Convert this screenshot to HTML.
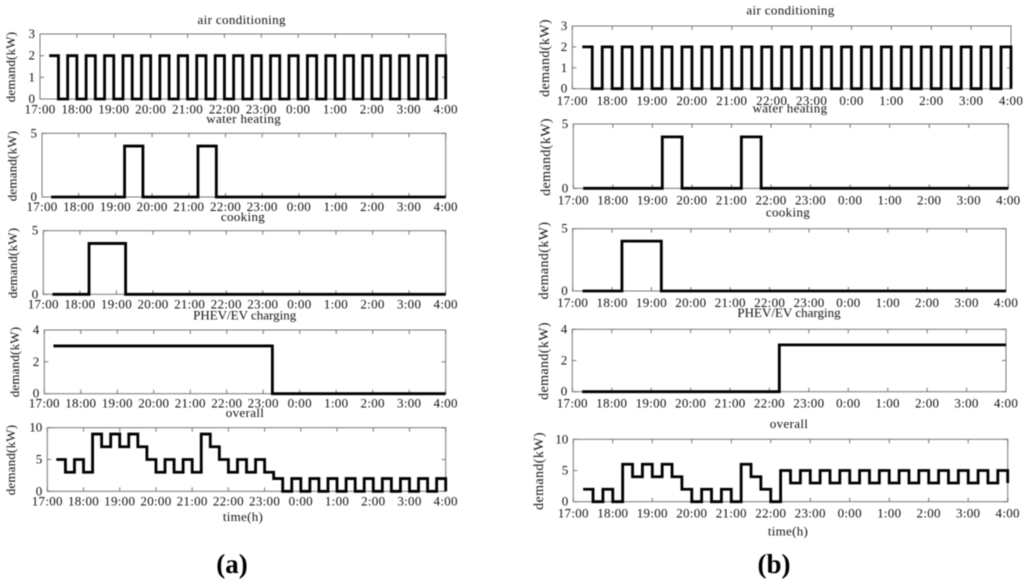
<!DOCTYPE html>
<html>
<head>
<meta charset="utf-8">
<title>Household demand schedules</title>
<style>
html,body{margin:0;padding:0;background:#fff;width:1024px;height:582px;overflow:hidden}
svg{display:block;filter:blur(0.5px)}
text{font-family:"Liberation Serif",serif;fill:#111;font-size:13px}
</style>
</head>
<body>
<svg id="chart" width="1024" height="582" viewBox="0 0 1024 582" xmlns="http://www.w3.org/2000/svg">
  <rect width="1024" height="582" fill="#fff"/>
  <text x="232" y="573" text-anchor="middle" style="font-size:27px;font-weight:bold;fill:#000">(a)</text>
  <text x="774" y="573" text-anchor="middle" style="font-size:27px;font-weight:bold;fill:#000">(b)</text>
  <text x="243" y="521" text-anchor="middle" style="letter-spacing:.3px">time(h)</text>
  <text x="788" y="535.5" text-anchor="middle" style="letter-spacing:.3px">time(h)</text>
</svg>
<script>
// Time slot at which each 15-minute step begins
const slotTimes = ["17:15","17:30","17:45","18:00","18:15","18:30","18:45","19:00","19:15","19:30","19:45","20:00","20:15","20:30","20:45","21:00","21:15","21:30","21:45","22:00","22:15","22:30","22:45","23:00","23:15","23:30","23:45","0:00","0:15","0:30","0:45","1:00","1:15","1:30","1:45","2:00","2:15","2:30","2:45","3:00","3:15","3:30","3:45","4:00"];
const xTickLabels = ["17:00","18:00","19:00","20:00","21:00","22:00","23:00","0:00","1:00","2:00","3:00","4:00"];

const airConditioning = [2,0,2,0,2,0,2,0,2,0,2,0,2,0,2,0,2,0,2,0,2,0,2,0,2,0,2,0,2,0,2,0,2,0,2,0,2,0,2,0,2,0,2,0];
const waterHeating    = [0,0,0,0,0,0,0,0,4,4,0,0,0,0,0,0,4,4,0,0,0,0,0,0,0,0,0,0,0,0,0,0,0,0,0,0,0,0,0,0,0,0,0,0];
const cooking         = [0,0,0,0,4,4,4,4,0,0,0,0,0,0,0,0,0,0,0,0,0,0,0,0,0,0,0,0,0,0,0,0,0,0,0,0,0,0,0,0,0,0,0,0];
const chargingA       = [3,3,3,3,3,3,3,3,3,3,3,3,3,3,3,3,3,3,3,3,3,3,3,3,0,0,0,0,0,0,0,0,0,0,0,0,0,0,0,0,0,0,0,0];
const chargingB       = [0,0,0,0,0,0,0,0,0,0,0,0,0,0,0,0,0,0,0,0,3,3,3,3,3,3,3,3,3,3,3,3,3,3,3,3,3,3,3,3,3,3,3,3];
const overallA        = [5,3,5,3,9,7,9,7,9,7,5,3,5,3,5,3,9,7,5,3,5,3,5,3,2,0,2,0,2,0,2,0,2,0,2,0,2,0,2,0,2,0,2,0];
const overallB        = [2,0,2,0,6,4,6,4,6,4,2,0,2,0,2,0,6,4,2,0,5,3,5,3,5,3,5,3,5,3,5,3,5,3,5,3,5,3,5,3,5,3,5,3];

const ticksAC = [0,1,2,3];
const ticksFive = [0,5];
const ticksCharging = [0,2,4];
const ticksOverall = [0,5,10];

const NS = "http://www.w3.org/2000/svg";
const svg = document.getElementById("chart");

function hoursFromStart(label){
  const p = label.split(":");
  let h = Number(p[0]) + Number(p[1]) / 60;
  if (h < 17) h += 24;
  return h - 17;
}

function drawPanel(cfg){
  const xScale = h => cfg.left + (cfg.right - cfg.left) * h / 11;
  const maxY = cfg.yTicks[cfg.yTicks.length - 1];
  const yScale = v => cfg.bottom - (cfg.bottom - cfg.top) * v / maxY;

  const g = document.createElementNS(NS, "g");
  
  
  svg.appendChild(g);

  const frame = document.createElementNS(NS, "rect");
  
  
  frame.setAttribute("x", cfg.left);
  frame.setAttribute("y", cfg.top);
  frame.setAttribute("width", cfg.right - cfg.left);
  frame.setAttribute("height", cfg.bottom - cfg.top);
  frame.setAttribute("fill", "none");
  frame.setAttribute("stroke", "#777");
  frame.setAttribute("stroke-width", "1");
  g.appendChild(frame);

  xTickLabels.forEach(function(label){
    const x = xScale(hoursFromStart(label));
    [[cfg.bottom, cfg.bottom - 4], [cfg.top, cfg.top + 4]].forEach(function(pair){
      const tick = document.createElementNS(NS, "line");
      
      
      tick.setAttribute("x1", x);
      tick.setAttribute("x2", x);
      tick.setAttribute("y1", pair[0]);
      tick.setAttribute("y2", pair[1]);
      tick.setAttribute("stroke", "#777");
      g.appendChild(tick);
    });
    const t = document.createElementNS(NS, "text");
    
    
    t.setAttribute("x", x);
    t.setAttribute("y", cfg.xLabelY + 4.5);
    t.setAttribute("text-anchor", "middle");
    t.setAttribute("style", "letter-spacing:.3px");
    t.textContent = label;
    g.appendChild(t);
  });

  cfg.yTicks.forEach(function(v){
    const y = yScale(v);
    [[cfg.left, cfg.left + 4], [cfg.right, cfg.right - 4]].forEach(function(pair){
      const tick = document.createElementNS(NS, "line");
      
      
      tick.setAttribute("x1", pair[0]);
      tick.setAttribute("x2", pair[1]);
      tick.setAttribute("y1", y);
      tick.setAttribute("y2", y);
      tick.setAttribute("stroke", "#777");
      g.appendChild(tick);
    });
    const t = document.createElementNS(NS, "text");
    
    
    t.setAttribute("x", cfg.left - 5);
    t.setAttribute("y", y + 4);
    t.setAttribute("text-anchor", "end");
    t.textContent = String(v);
    g.appendChild(t);
  });

  let d = "";
  cfg.values.forEach(function(v, i){
    const x = xScale(hoursFromStart(slotTimes[i]));
    if (i === 0) {
      d = "M" + x + " " + yScale(v);
    } else {
      d += "H" + x + "V" + yScale(v);
    }
  });
  const line = document.createElementNS(NS, "path");
  
  
  line.setAttribute("d", d);
  line.setAttribute("fill", "none");
  line.setAttribute("stroke", "#000");
  line.setAttribute("stroke-width", "2.8");
  line.setAttribute("stroke-linejoin", "miter");
  g.appendChild(line);

  const title = document.createElementNS(NS, "text");
  
  
  title.setAttribute("x", cfg.titleX);
  title.setAttribute("y", cfg.titleY + 4);
  title.setAttribute("text-anchor", "middle");
  title.setAttribute("style", cfg.tightTitle ? "letter-spacing:0" : "letter-spacing:.35px");
  title.textContent = cfg.title;
  g.appendChild(title);

  const yTitle = document.createElementNS(NS, "text");
  
  
  yTitle.setAttribute("text-anchor", "middle");
  yTitle.setAttribute("transform", "translate(" + (cfg.yTitleX + 4) + " " + cfg.yTitleY + ") rotate(-90)");
  yTitle.setAttribute("style", cfg.largeYTitle ? "font-size:14px;letter-spacing:.4px" : "letter-spacing:.2px");
  yTitle.textContent = "demand(kW)";
  g.appendChild(yTitle);
}

drawPanel({id:"a-air-conditioning",title:"air conditioning",values:airConditioning,yTicks:ticksAC,left:40,right:445.7,top:34,bottom:99,xLabelY:109,titleX:241.7,titleY:20,yTitleX:11,yTitleY:67});
drawPanel({id:"a-water-heating",title:"water heating",values:waterHeating,yTicks:ticksFive,left:42,right:445.7,top:133.3,bottom:197,xLabelY:206.7,titleX:243.7,titleY:119,yTitleX:12.7,yTitleY:166});
drawPanel({id:"a-cooking",title:"cooking",values:cooking,yTicks:ticksFive,left:43.3,right:445.7,top:230.7,bottom:294.3,xLabelY:304,titleX:243,titleY:217,yTitleX:13,yTitleY:263});
drawPanel({id:"a-charging",title:"PHEV/EV charging",tightTitle:true,values:chargingA,yTicks:ticksCharging,left:44.3,right:445.7,top:330,bottom:393.7,xLabelY:403,titleX:244.7,titleY:315.7,yTitleX:15,yTitleY:362});
drawPanel({id:"a-overall",title:"overall",values:overallA,yTicks:ticksOverall,left:47.3,right:445.7,top:427.7,bottom:491.3,xLabelY:501,titleX:245,titleY:413,yTitleX:11,yTitleY:460});

drawPanel({id:"b-air-conditioning",title:"air conditioning",largeYTitle:true,values:airConditioning,yTicks:ticksAC,left:572.3,right:1011,top:26,bottom:88.7,xLabelY:100.7,titleX:790.5,titleY:10.7,yTitleX:545,yTitleY:58});
drawPanel({id:"b-water-heating",title:"water heating",largeYTitle:true,values:waterHeating,yTicks:ticksFive,left:573.3,right:1008.3,top:124,bottom:188.3,xLabelY:200,titleX:790,titleY:108.7,yTitleX:546,yTitleY:157});
drawPanel({id:"b-cooking",title:"cooking",largeYTitle:true,values:cooking,yTicks:ticksFive,left:572.7,right:1006,top:228.7,bottom:291,xLabelY:302.7,titleX:788,titleY:212.7,yTitleX:544,yTitleY:260.5});
drawPanel({id:"b-charging",title:"PHEV/EV charging",tightTitle:true,largeYTitle:true,values:chargingB,yTicks:ticksCharging,left:572.3,right:1006,top:329.3,bottom:391.7,xLabelY:403,titleX:789,titleY:313,yTitleX:544,yTitleY:361});
drawPanel({id:"b-overall",title:"overall",largeYTitle:true,values:overallB,yTicks:ticksOverall,left:573.3,right:1007.7,top:439.3,bottom:501.7,xLabelY:513,titleX:789,titleY:424,yTitleX:539,yTitleY:471});
</script>
</body>
</html>
